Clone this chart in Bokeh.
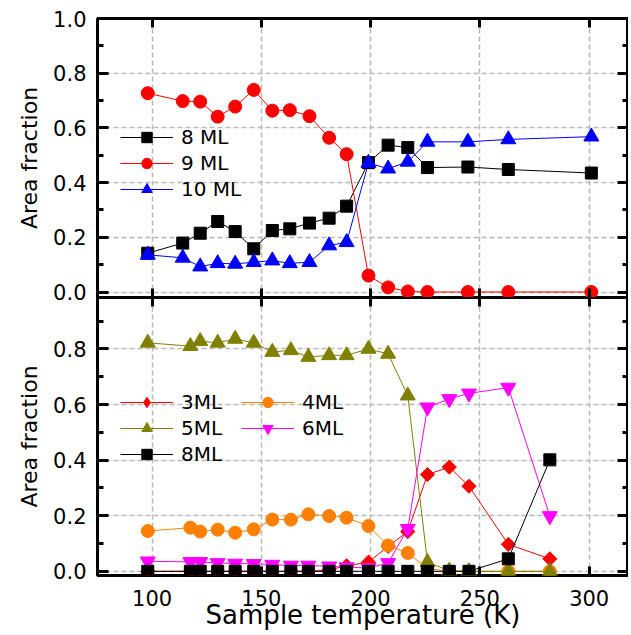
import numpy as np
from bokeh.plotting import figure
from bokeh.layouts import column
from bokeh.models import (Range1d, LinearAxis, FixedTicker, Legend, LegendItem,
                          PrintfTickFormatter, CustomLabelingPolicy)
from bokeh.embed import file_html
from bokeh.resources import INLINE

# ---------------- data ----------------
T_top = [98, 114, 122, 130, 138, 146.5, 155, 163, 172, 181, 189, 199, 208, 217, 226, 244.5, 263, 301]
ml8_top = [0.142, 0.179, 0.215, 0.258, 0.221, 0.158, 0.225, 0.231, 0.252, 0.270, 0.314,
           0.473, 0.537, 0.528, 0.455, 0.457, 0.448, 0.435]
ml9_top = [0.727, 0.698, 0.696, 0.641, 0.678, 0.739, 0.663, 0.665, 0.643, 0.564, 0.504,
           0.060, 0.017, 0.002, 0.0, 0.0, 0.0, 0.0]
ml10_top = [0.136, 0.125, 0.093, 0.105, 0.103, 0.109, 0.115, 0.105, 0.109, 0.170, 0.182,
            0.472, 0.451, 0.476, 0.549, 0.549, 0.558, 0.568]

T_bot = [98, 117.5, 122, 130, 138, 146.5, 155, 163.5, 171.5, 181, 189, 199, 208, 217, 226, 236, 245, 263, 282]
ml3 = [0, 0, 0, 0, 0, 0, 0, 0, 0, 0.005, 0.02, 0.033, 0.09, 0.143, 0.348, 0.375, 0.306, 0.097, 0.045]
ml4 = [0.145, 0.157, 0.143, 0.150, 0.139, 0.151, 0.186, 0.186, 0.205, 0.199, 0.193, 0.163,
       0.093, 0.066, 0.01, 0, 0, 0, 0]
ml5 = [0.822, 0.810, 0.828, 0.822, 0.836, 0.822, 0.789, 0.795, 0.771, 0.777, 0.777, 0.800,
       0.782, 0.632, 0.033, 0.002, 0, 0, 0]
ml6 = [0.036, 0.034, 0.034, 0.030, 0.028, 0.027, 0.024, 0.021, 0.021, 0.018, 0.015, 0.012,
       0.03, 0.153, 0.590, 0.620, 0.640, 0.661, 0.199]
ml8_bot = [0, 0, 0, 0, 0, 0, 0, 0, 0, 0, 0, 0, 0, 0, 0, 0, 0, 0.045, 0.401]

x_ticks = [100, 150, 200, 250, 300]
y_ticks_top = [0.0, 0.2, 0.4, 0.6, 0.8, 1.0]
y_minor_top = [0.1, 0.3, 0.5, 0.7, 0.9]
y_ticks_bot = [0.0, 0.2, 0.4, 0.6, 0.8]
y_minor_bot = [0.1, 0.3, 0.5, 0.7, 0.9]

FONT = "DejaVu Sans"
GRID_COLOR = "#b8b8b8"
OVERLAP = 14

x_range = Range1d(75, 318)

NO_LABELS = """
for (let i = 0; i < indices.size; i++) { indices.unset(i) }
return indices
"""


def hide_labels(ax):
    ax.major_label_text_font_size = "0px"
    ax.major_label_standoff = 0
    ax.major_label_policy = CustomLabelingPolicy(code=NO_LABELS)
    ax.axis_label = None


def style_y(ax, labels=True):
    ax.axis_line_color = None
    ax.major_tick_in = 11
    ax.major_tick_out = 0
    ax.minor_tick_in = 6
    ax.minor_tick_out = 0
    ax.major_tick_line_width = 3
    ax.minor_tick_line_width = 3
    ax.major_tick_line_color = "black"
    ax.minor_tick_line_color = "black"
    ax.formatter = PrintfTickFormatter(format="%.1f")
    if labels:
        ax.major_label_text_font = FONT
        ax.major_label_text_font_size = "21px"
        ax.major_label_text_color = "black"
        ax.major_label_standoff = 11
        ax.axis_label = "Area fraction"
        ax.axis_label_text_font = FONT
        ax.axis_label_text_font_size = "22px"
        ax.axis_label_text_font_style = "normal"
        ax.axis_label_text_color = "black"
        ax.axis_label_standoff = 8
    else:
        hide_labels(ax)


def style_x(ax, labels=False):
    ax.ticker = FixedTicker(ticks=x_ticks, minor_ticks=[])
    ax.axis_line_color = None
    ax.major_tick_in = 9
    ax.major_tick_out = 0
    ax.minor_tick_in = 0
    ax.minor_tick_out = 0
    ax.major_tick_line_width = 3
    ax.major_tick_line_color = "black"
    if labels:
        ax.major_label_text_font = FONT
        ax.major_label_text_font_size = "21px"
        ax.major_label_text_color = "black"
        ax.major_label_standoff = 14
        ax.axis_label = "Sample temperature (K)"
        ax.axis_label_text_font = FONT
        ax.axis_label_text_font_size = "26px"
        ax.axis_label_text_font_style = "normal"
        ax.axis_label_text_color = "black"
        ax.axis_label_standoff = -9
    else:
        hide_labels(ax)


def make_fig(y_range, ticks, minor, frame_h, top_border, bottom_border, xlabels):
    p = figure(frame_width=531, frame_height=frame_h, x_range=x_range, y_range=y_range,
               output_backend="svg", toolbar_location=None,
               min_border_left=97, min_border_right=0,
               min_border_top=top_border, min_border_bottom=bottom_border)
    p.outline_line_color = "black"
    p.outline_line_width = 3
    left = p.left[0]
    left.ticker = FixedTicker(ticks=ticks, minor_ticks=minor)
    style_y(left, labels=True)
    bottom = p.below[0]
    style_x(bottom, labels=xlabels)
    right = LinearAxis(ticker=FixedTicker(ticks=ticks, minor_ticks=minor))
    style_y(right, labels=False)
    p.add_layout(right, "right")
    top = LinearAxis()
    style_x(top, labels=False)
    p.add_layout(top, "above")
    p.xgrid.ticker = FixedTicker(ticks=x_ticks)
    p.ygrid.ticker = FixedTicker(ticks=ticks)
    for g in (p.xgrid, p.ygrid):
        g.grid_line_color = GRID_COLOR
        g.grid_line_dash = "5 3"
        g.grid_line_width = 1.5
    return p


def series(p, x, y, color, marker, size, angle=0.0):
    lr = p.line(x, y, line_color=color, line_width=1)
    sr = p.scatter(x, y, marker=marker, size=size, angle=angle,
                   fill_color=color, line_color=color)
    return [lr, sr]


# ---------------- top panel ----------------
p1 = make_fig(Range1d(-0.02, 1.0), y_ticks_top, y_minor_top, 279, 18, OVERLAP, False)
p1.background_fill_color = "white"
p1.border_fill_color = "white"
p1.margin = (0, 0, -OVERLAP, 0)

r8 = series(p1, T_top, ml8_top, "black", "square", 12)
r9 = series(p1, T_top, ml9_top, "#ff0000", "circle", 13)
r10 = series(p1, T_top, ml10_top, "#0000ff", "triangle", 15)

leg1 = Legend(items=[LegendItem(label="8 ML", renderers=r8),
                     LegendItem(label="9 ML", renderers=r9),
                     LegendItem(label="10 ML", renderers=r10)],
              location=(23, 95))

# ---------------- bottom panel ----------------
p2 = make_fig(Range1d(-0.015, 0.985), y_ticks_bot, y_minor_bot, 278, 0, 5, True)
p2.background_fill_alpha = 0
p2.border_fill_alpha = 0

s3 = series(p2, T_bot, ml3, "#ff0000", "square", 10, angle=np.pi / 4)
# legend key for the diamond marker (a NaN point, never drawn in the plot)
s3_key = p2.scatter([np.nan], [np.nan], marker="diamond", size=14,
                    fill_color="#ff0000", line_color="#ff0000")
s4 = series(p2, T_bot, ml4, "#ff8000", "circle", 13)
s5 = series(p2, T_bot, ml5, "#808000", "triangle", 15)
s6 = series(p2, T_bot, ml6, "#ff00ff", "inverted_triangle", 15)
s8 = series(p2, T_bot, ml8_bot, "black", "square", 12)

leg2 = Legend(items=[LegendItem(label="3ML", renderers=[s3[0], s3_key]),
                     LegendItem(label="4ML", renderers=s4),
                     LegendItem(label="5ML", renderers=s5),
                     LegendItem(label="6ML", renderers=s6),
                     LegendItem(label="8ML", renderers=s8)],
              location=(23, 108), orientation="horizontal", ncols=2,
              label_width=60)

for lg in (leg1, leg2):
    lg.glyph_width = 53
    lg.glyph_height = 26
    lg.spacing = 0
    lg.padding = 0
    lg.margin = 0
    lg.label_standoff = 8
    lg.border_line_color = None
    lg.background_fill_alpha = 0
    lg.label_text_font = FONT
    lg.label_text_font_size = "20px"
    lg.label_text_color = "black"

p1.add_layout(leg1)
p2.add_layout(leg2)

layout = column(p1, p2, spacing=0)

with open("out.html", "w") as f:
    f.write(file_html(layout, INLINE))
